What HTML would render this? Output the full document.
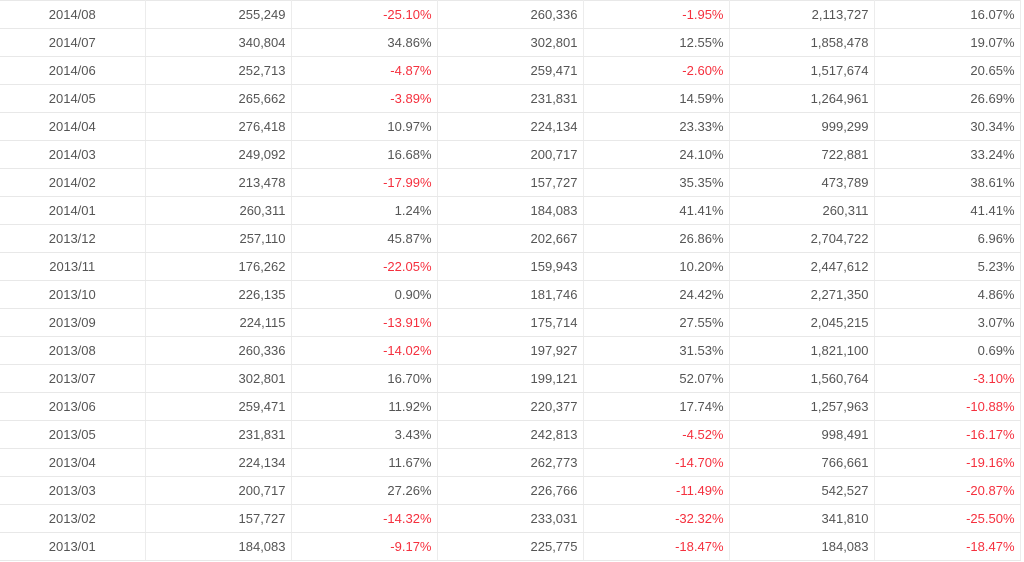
<!DOCTYPE html>
<html><head><style>
body{margin:0;background:#fff;font-family:"Liberation Sans",Arial,sans-serif;font-size:13px;color:#555;}
table{position:absolute;left:0;top:0;border-collapse:collapse;table-layout:fixed;width:1020px;}
td{height:27px;border-top:1px solid #e8e8e8;border-bottom:1px solid #e8e8e8;border-right:1px solid #ececec;padding:0 5px;text-align:right;white-space:nowrap;}
td:first-child{text-align:center;padding:0;}
tr:first-child td{border-top:1px solid #e8e8e8;}
.r{color:#f5303e;}
</style></head><body>
<table>
<colgroup><col style="width:145px"><col style="width:146px"><col style="width:146px"><col style="width:146px"><col style="width:146px"><col style="width:145px"><col style="width:146px"></colgroup>
<tr><td>2014/08</td><td>255,249</td><td class="r">-25.10%</td><td>260,336</td><td class="r">-1.95%</td><td>2,113,727</td><td>16.07%</td></tr>
<tr><td>2014/07</td><td>340,804</td><td>34.86%</td><td>302,801</td><td>12.55%</td><td>1,858,478</td><td>19.07%</td></tr>
<tr><td>2014/06</td><td>252,713</td><td class="r">-4.87%</td><td>259,471</td><td class="r">-2.60%</td><td>1,517,674</td><td>20.65%</td></tr>
<tr><td>2014/05</td><td>265,662</td><td class="r">-3.89%</td><td>231,831</td><td>14.59%</td><td>1,264,961</td><td>26.69%</td></tr>
<tr><td>2014/04</td><td>276,418</td><td>10.97%</td><td>224,134</td><td>23.33%</td><td>999,299</td><td>30.34%</td></tr>
<tr><td>2014/03</td><td>249,092</td><td>16.68%</td><td>200,717</td><td>24.10%</td><td>722,881</td><td>33.24%</td></tr>
<tr><td>2014/02</td><td>213,478</td><td class="r">-17.99%</td><td>157,727</td><td>35.35%</td><td>473,789</td><td>38.61%</td></tr>
<tr><td>2014/01</td><td>260,311</td><td>1.24%</td><td>184,083</td><td>41.41%</td><td>260,311</td><td>41.41%</td></tr>
<tr><td>2013/12</td><td>257,110</td><td>45.87%</td><td>202,667</td><td>26.86%</td><td>2,704,722</td><td>6.96%</td></tr>
<tr><td>2013/11</td><td>176,262</td><td class="r">-22.05%</td><td>159,943</td><td>10.20%</td><td>2,447,612</td><td>5.23%</td></tr>
<tr><td>2013/10</td><td>226,135</td><td>0.90%</td><td>181,746</td><td>24.42%</td><td>2,271,350</td><td>4.86%</td></tr>
<tr><td>2013/09</td><td>224,115</td><td class="r">-13.91%</td><td>175,714</td><td>27.55%</td><td>2,045,215</td><td>3.07%</td></tr>
<tr><td>2013/08</td><td>260,336</td><td class="r">-14.02%</td><td>197,927</td><td>31.53%</td><td>1,821,100</td><td>0.69%</td></tr>
<tr><td>2013/07</td><td>302,801</td><td>16.70%</td><td>199,121</td><td>52.07%</td><td>1,560,764</td><td class="r">-3.10%</td></tr>
<tr><td>2013/06</td><td>259,471</td><td>11.92%</td><td>220,377</td><td>17.74%</td><td>1,257,963</td><td class="r">-10.88%</td></tr>
<tr><td>2013/05</td><td>231,831</td><td>3.43%</td><td>242,813</td><td class="r">-4.52%</td><td>998,491</td><td class="r">-16.17%</td></tr>
<tr><td>2013/04</td><td>224,134</td><td>11.67%</td><td>262,773</td><td class="r">-14.70%</td><td>766,661</td><td class="r">-19.16%</td></tr>
<tr><td>2013/03</td><td>200,717</td><td>27.26%</td><td>226,766</td><td class="r">-11.49%</td><td>542,527</td><td class="r">-20.87%</td></tr>
<tr><td>2013/02</td><td>157,727</td><td class="r">-14.32%</td><td>233,031</td><td class="r">-32.32%</td><td>341,810</td><td class="r">-25.50%</td></tr>
<tr><td>2013/01</td><td>184,083</td><td class="r">-9.17%</td><td>225,775</td><td class="r">-18.47%</td><td>184,083</td><td class="r">-18.47%</td></tr>
</table>
</body></html>
